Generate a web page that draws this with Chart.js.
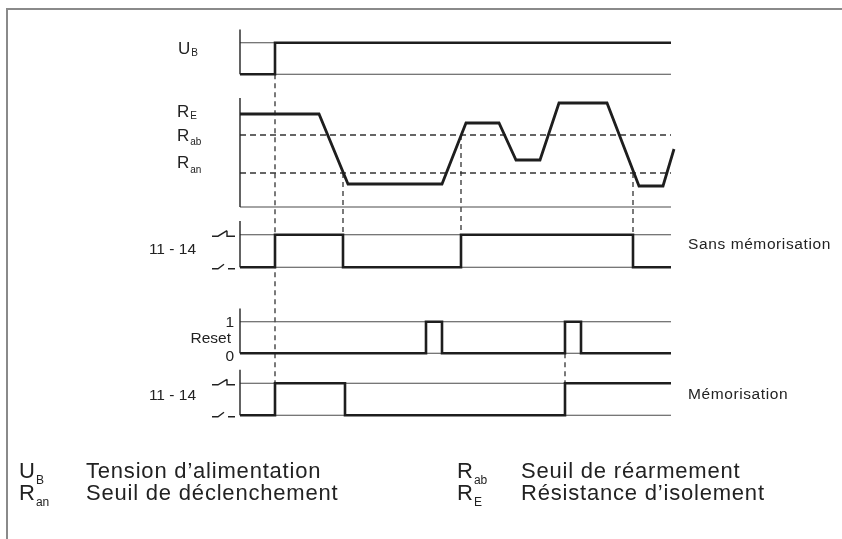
<!DOCTYPE html>
<html>
<head>
<meta charset="utf-8">
<script src="https://cdn.jsdelivr.net/npm/chart.js@4.4.0/dist/chart.umd.min.js"></script>
<style>
  html, body { margin: 0; padding: 0; background: #fff; }
  #wrap { position: relative; width: 842px; height: 539px; }
</style>
</head>
<body>
<div id="wrap"><canvas id="timing"></canvas></div>
<script>
// time runs left to right, 0 = start of the diagram
const T_END = 431;
const T_MAX = 434;

// U_B supply voltage (level changes, stepped)
const ubTimes = [0, 35, 431];
const ubLevels = [0, 1, 1];

// R_E insulation resistance
const reTimes = [0, 79, 108, 202, 226, 259, 276, 300, 319, 367, 399, 423, 434];
const reValues = [93, 93, 23, 23, 84, 84, 47, 47, 104, 104, 21, 21, 58];
const R_AB = 72;
const R_AN = 34;
const RE_TOP = 109;

// contact 11-14, sans mémorisation
const s1Times = [0, 35, 103, 221, 393, 431];
const s1Levels = [0, 1, 0, 1, 0, 0];

// reset input
const resetTimes = [0, 186, 202, 325, 341, 431];
const resetLevels = [0, 1, 0, 1, 0, 0];

// contact 11-14, mémorisation
const s2Times = [0, 35, 105, 325, 431];
const s2Levels = [0, 1, 0, 1, 1];
const LOGIC_TOP = 1.42;

// dashed guides: time, start scale/value, end scale/value
const guides = [
  [35, 'yUb', 0, 'yS2', 1],
  [103, 'yRe', R_AN, 'yS1', 1],
  [221, 'yRe', R_AB, 'yS1', 1],
  [393, 'yRe', R_AN, 'yS1', 1],
  [325, 'yReset', 0, 'yS2', 1]
];

const legendLeft = [['U', 'B', 'Tension d’alimentation'], ['R', 'an', 'Seuil de déclenchement']];
const legendRight = [['R', 'ab', 'Seuil de réarmement'], ['R', 'E', 'Résistance d’isolement']];

const FONT = "'Liberation Sans', Arial, sans-serif";
const INK = '#1e1e1e';
const H = 539;

// linear scale that puts value 0 at px0 and value v1 at px1 (chart area = full height)
function fit(px0, px1, v1) {
    const unit = (px0 - px1) / v1;
    const max = v1 + px1 / unit;
    return { min: max - H / unit, max: max };
}

function series(times, values, yAxisID, extra) {
    return Object.assign({
        data: times.map((t, i) => ({ x: t, y: values[i] })),
        xAxisID: 'x',
        yAxisID: yAxisID,
        borderColor: INK,
        borderWidth: 2.6,
        pointRadius: 0,
        fill: false,
        tension: 0,
        clip: false,
        order: 1
    }, extra || {});
}

const thin = { borderColor: '#4a4a4a', borderWidth: 1.1, order: 3 };
const axisLine = { borderColor: '#222', borderWidth: 1.4, order: 2 };
const dashed = { borderColor: '#333', borderWidth: 1.3, borderDash: [6, 4], order: 3 };

const datasets = [];
[['yUb', ubTimes, ubLevels], ['yS1', s1Times, s1Levels],
 ['yReset', resetTimes, resetLevels], ['yS2', s2Times, s2Levels]].forEach(row => {
    datasets.push(series([0, T_END], [1, 1], row[0], thin));
    datasets.push(series([0, T_END], [0, 0], row[0], thin));
    datasets.push(series([0, 0], [0, LOGIC_TOP], row[0], axisLine));
    datasets.push(series(row[1], row[2], row[0], { stepped: true }));
});
datasets.push(series([0, T_END], [0, 0], 'yRe', thin));
datasets.push(series([0, 0], [0, RE_TOP], 'yRe', axisLine));
datasets.push(series([0, T_END], [R_AB, R_AB], 'yRe', dashed));
datasets.push(series([0, T_END], [R_AN, R_AN], 'yRe', dashed));
datasets.push(series(reTimes, reValues, 'yRe', { borderWidth: 2.8 }));

function text(ctx, str, x, y, size, align, spacing) {
    ctx.font = size + 'px ' + FONT;
    ctx.textAlign = align || 'left';
    ctx.letterSpacing = (spacing || 0) + 'px';
    ctx.fillText(str, x, y);
    return ctx.measureText(str).width;
}

function symbol(ctx, main, sub, x, y, size, subSize, subDy, spacing) {
    const w = text(ctx, main, x, y, size, 'left', spacing);
    text(ctx, sub, x + w + 1, y + subDy, subSize, 'left', 0);
}

function contact(ctx, x0, y, closed) {
    ctx.beginPath();
    ctx.moveTo(x0 - 28, y + 1.5);
    ctx.lineTo(x0 - 22, y + 1.5);
    if (closed) {
        ctx.lineTo(x0 - 13, y - 4);
        ctx.moveTo(x0 - 13, y - 4);
        ctx.lineTo(x0 - 13, y + 1.5);
        ctx.lineTo(x0 - 5, y + 1.5);
    } else {
        ctx.lineTo(x0 - 16, y - 3);
        ctx.moveTo(x0 - 12, y + 1.5);
        ctx.lineTo(x0 - 5, y + 1.5);
    }
    ctx.stroke();
}

const decor = {
    id: 'decor',
    beforeDraw(chart) {
        const ctx = chart.ctx;
        ctx.save();
        ctx.strokeStyle = '#8a8a8a';
        ctx.lineWidth = 2;
        ctx.beginPath();
        ctx.moveTo(7, H);
        ctx.lineTo(7, 9);
        ctx.lineTo(842, 9);
        ctx.stroke();
        ctx.restore();
    },
    beforeDatasetsDraw(chart) {
        const ctx = chart.ctx;
        const s = chart.scales;
        ctx.save();
        ctx.strokeStyle = '#333';
        ctx.lineWidth = 1.3;
        ctx.setLineDash([5, 4]);
        guides.forEach(g => {
            const x = s.x.getPixelForValue(g[0]);
            ctx.beginPath();
            ctx.moveTo(x, s[g[1]].getPixelForValue(g[2]));
            ctx.lineTo(x, s[g[3]].getPixelForValue(g[4]));
            ctx.stroke();
        });
        ctx.restore();
    },
    afterDatasetsDraw(chart) {
        const ctx = chart.ctx;
        const s = chart.scales;
        const x0 = s.x.getPixelForValue(0);
        ctx.save();
        ctx.fillStyle = '#222';
        ctx.textBaseline = 'alphabetic';

        // row labels
        symbol(ctx, 'U', 'B', 178, s.yUb.getPixelForValue(1) + 11, 17, 10, 2.5, 0);
        symbol(ctx, 'R', 'E', 177, s.yRe.getPixelForValue(reValues[0]) + 2.8, 17, 10, 2.5, 0);
        symbol(ctx, 'R', 'ab', 177, s.yRe.getPixelForValue(R_AB) + 6, 17, 10, 4, 0);
        symbol(ctx, 'R', 'an', 177, s.yRe.getPixelForValue(R_AN) - 5.5, 17, 10, 5, 0);
        text(ctx, '11 - 14', 196, s.yS1.getPixelForValue(1) + 19, 15.5, 'right', 0);
        text(ctx, '11 - 14', 196, s.yS2.getPixelForValue(1) + 17, 15.5, 'right', 0);
        text(ctx, 'Reset', 231, s.yReset.getPixelForValue(0.5) + 5.5, 15.5, 'right', 0);
        text(ctx, '1', 234, s.yReset.getPixelForValue(1) + 5, 15.5, 'right', 0);
        text(ctx, '0', 234, s.yReset.getPixelForValue(0) + 7.5, 15.5, 'right', 0);
        text(ctx, 'Sans mémorisation', 688, s.yS1.getPixelForValue(1) + 14.5, 15.5, 'left', 0.6);
        text(ctx, 'Mémorisation', 688, s.yS2.getPixelForValue(1) + 15.5, 15.5, 'left', 0.6);

        // contact symbols
        ctx.strokeStyle = '#222';
        ctx.lineWidth = 1.4;
        ['yS1', 'yS2'].forEach(id => {
            contact(ctx, x0, s[id].getPixelForValue(1), true);
            contact(ctx, x0, s[id].getPixelForValue(0), false);
        });

        // bottom legend
        [legendLeft, legendRight].forEach((col, c) => {
            const xs = c === 0 ? [19, 86] : [457, 521];
            col.forEach((item, r) => {
                const y = 478 + r * 22;
                symbol(ctx, item[0], item[1], xs[0], y, 22, 12, 6, 0);
                text(ctx, item[2], xs[1], y, 22, 'left', 0.8);
            });
        });
        ctx.restore();
    }
};

new Chart(document.getElementById('timing'), {
    type: 'line',
    data: { datasets: datasets },
    options: {
        responsive: true,
        maintainAspectRatio: false,
        animation: false,
        events: [],
        layout: { padding: { left: 240, right: 168, top: 0, bottom: 0 } },
        plugins: { legend: { display: false }, tooltip: { enabled: false } },
        scales: {
            x: { type: 'linear', min: 0, max: T_MAX, display: false },
            yUb: Object.assign({ type: 'linear', display: false }, fit(74.3, 42.7, 1)),
            yRe: Object.assign({ type: 'linear', display: false }, fit(207, 107, 100)),
            yS1: Object.assign({ type: 'linear', display: false }, fit(267.3, 234.7, 1)),
            yReset: Object.assign({ type: 'linear', display: false }, fit(353.3, 321.7, 1)),
            yS2: Object.assign({ type: 'linear', display: false }, fit(415.3, 383.3, 1))
        }
    },
    plugins: [decor]
});
</script>
</body>
</html>
